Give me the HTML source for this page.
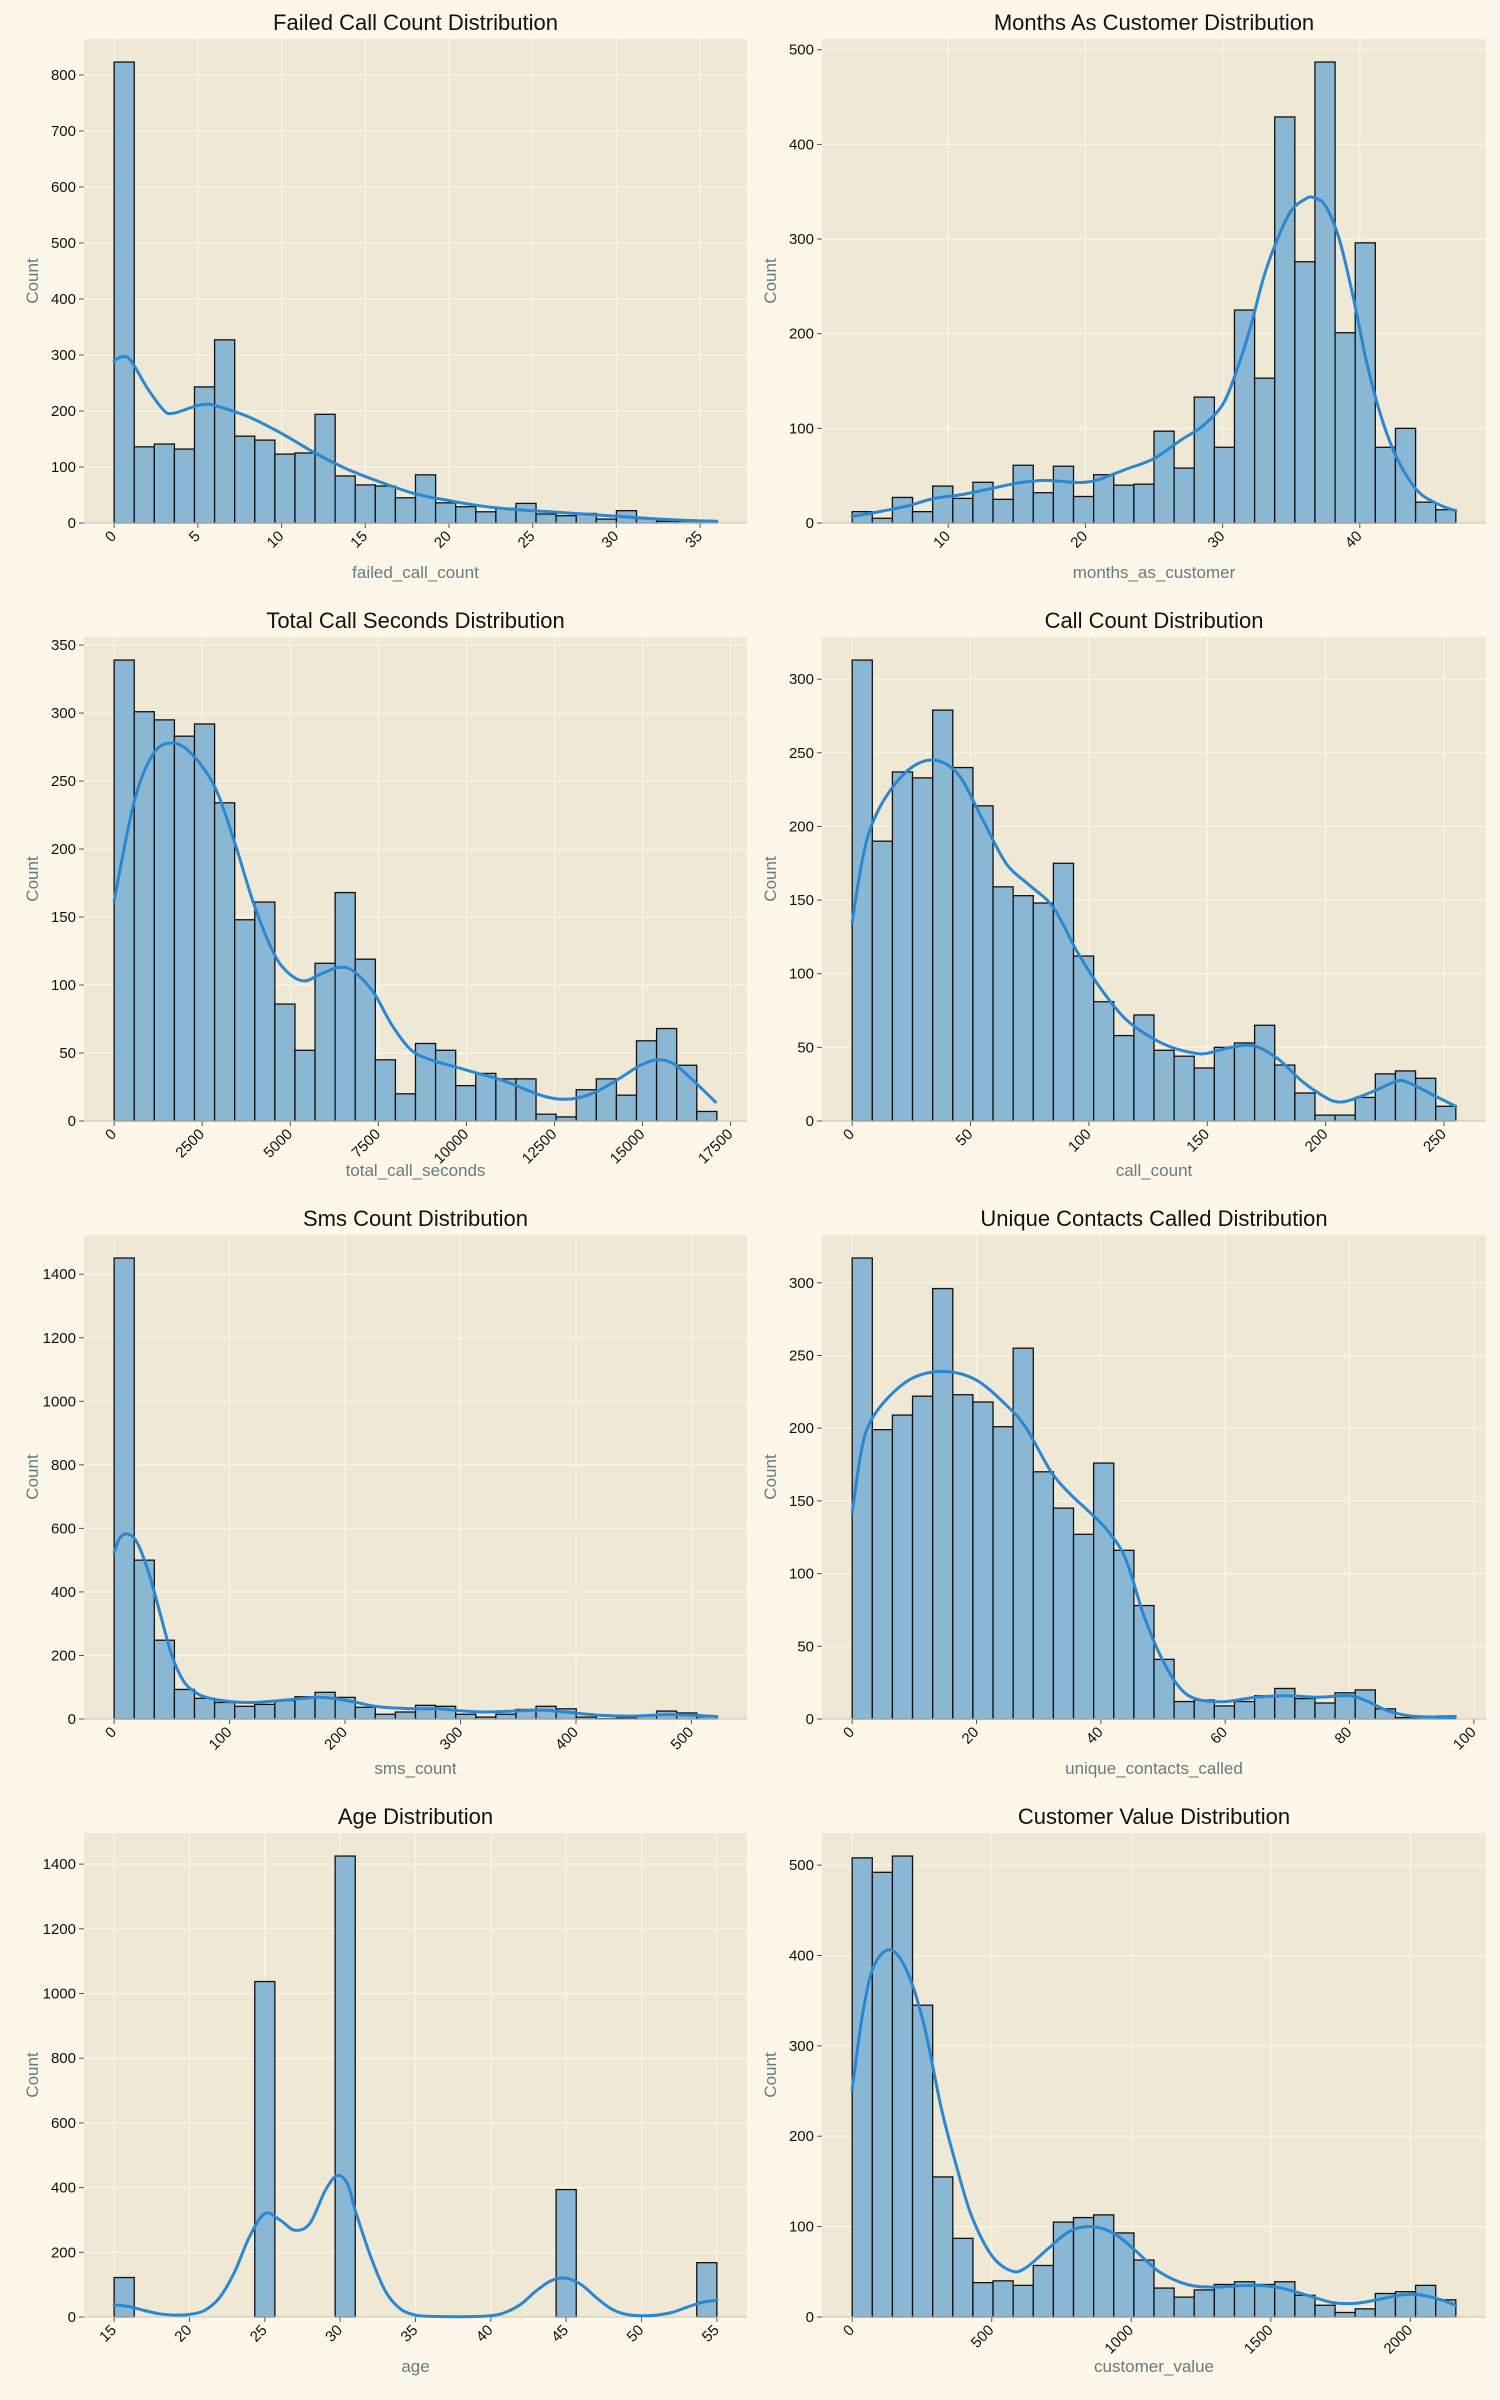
<!DOCTYPE html>
<html><head><meta charset="utf-8"><style>
html,body{margin:0;padding:0;background:#fdf7ea;}
svg{display:block;font-family:"Liberation Sans","DejaVu Sans",sans-serif;}
</style></head><body>
<svg id="fig" width="1500" height="2400" viewBox="0 0 1500 2400" xmlns="http://www.w3.org/2000/svg">
<rect x="0" y="0" width="1500" height="2400" fill="#fdf7ea"/>
</svg>
<script>
// ---------- data ----------
const p1Counts=[823,136,141,132,243,327,155,148,123,125,194,84,68,66,45,86,36,29,20,26,35,16,13,17,7,22,8,3,3,3];
const p1KdeX=[0,0.5,1,2,3,3.5,4,5,5.5,6,8,10,12,14,16,18,20,22,24,26,28,30,32,34,36];
const p1KdeY=[290,297,290,240,200,196,200,210,212,210,190,160,125,95,72,52,40,30,24,20,16,12,8,5,3];
const p2Counts=[12,5,27,12,39,26,43,25,61,32,60,28,51,40,41,97,58,133,80,225,153,429,276,487,201,296,80,100,22,14];
const p2KdeX=[3,5,7,9,11,13,15,17,19,20,21,23,25,27,28.5,30,31,32,33,34,35,36,36.6,37.5,38.5,39.5,40.5,41.5,42.5,43.5,44.5,46,47];
const p2KdeY=[7,12,18,26,30,36,42,45,43,43,46,57,68,88,102,125,160,205,260,300,330,342,344,335,300,240,170,115,75,48,30,18,13];
const p3Counts=[339,301,295,283,292,234,148,161,86,52,116,168,119,45,20,57,52,26,35,31,31,5,3,23,31,19,59,68,41,7];
const p3KdeX=[0,570,1110,1650,2200,2870,3420,3960,4500,4900,5380,5860,6400,6800,7350,7900,8440,8990,9650,10330,11010,11690,12230,12700,13170,13720,14390,14940,15420,15890,16430,17070];
const p3KdeY=[162,235,270,278,270,245,205,160,125,110,103,108,113,110,95,70,52,45,40,35,30,23,18,16,17,22,32,41,45,42,30,14];
const p4Counts=[313,190,237,233,279,240,214,159,153,148,175,112,81,58,72,48,44,36,50,53,65,38,19,4,4,16,32,34,29,10];
const p4KdeX=[0,4,8,15,25,35,45,55,65,75,85,95,105,115,125,135,145,150,160,170,180,190,200,205,210,220,230,235,245,255];
const p4KdeY=[135,175,200,222,240,245,235,205,175,160,145,115,90,70,58,50,46,46,50,51,42,27,16,13,14,20,27,26,18,10];
const p5Counts=[1451,500,248,93,65,52,40,46,58,70,84,68,37,15,22,43,40,15,6,15,30,40,32,6,1,3,10,25,19,7];
const p5KdeX=[0,5,12,20,30,40,50,60,70,80,100,120,150,175,190,210,230,260,280,300,320,340,370,390,420,450,480,500,522];
const p5KdeY=[525,570,582,555,460,330,200,120,85,68,55,52,60,68,65,52,38,32,32,26,22,24,28,22,12,9,14,12,8];
const p6Counts=[317,199,209,222,296,223,218,201,255,170,145,127,176,116,78,41,12,13,9,12,16,21,14,11,18,20,7,1,1,2];
const p6KdeX=[0,1.5,3,6,10,15,20,25,28,32,35,38,41,44,47,50,53,56,60,65,70,75,80,83,86,90,97];
const p6KdeY=[142,185,205,222,235,239,233,215,200,170,155,143,130,110,70,40,20,13,12,15,16,15,16,12,6,2,1];
const p7Counts=[122,0,0,0,0,0,0,1037,0,0,0,1425,0,0,0,0,0,0,0,0,0,0,394,0,0,0,0,0,0,168];
const p7KdeX=[15,16,17,18,19,20,21,22,23,24,25,26,27,28,29,29.8,30.5,31,32,33,34,35,36,38,40,41,42,43,44,45,46,47,48,49,50,51,52,53,54,55];
const p7KdeY=[38,32,20,10,6,8,20,60,140,250,320,300,268,290,390,437,410,330,190,80,25,6,2,1,4,15,40,80,112,120,100,60,25,8,4,6,14,30,45,52];
const p8Counts=[508,492,510,345,155,87,38,40,35,57,105,110,113,93,63,32,22,30,36,39,36,39,24,13,5,9,26,28,35,19];
const p8KdeX=[0,40,80,140,200,260,320,380,430,500,570,620,700,780,860,940,1020,1100,1200,1300,1420,1520,1620,1720,1800,1880,1960,2020,2100,2163];
const p8KdeY=[252,340,390,406,380,320,230,160,110,68,51,54,75,95,100,92,72,50,36,33,35,33,25,16,15,19,24,25,20,13];
const p1Range=[0,36], p1XTicks=[0,5,10,15,20,25,30,35], p1YTicks=[0,100,200,300,400,500,600,700,800];
const p2Range=[3,47], p2XTicks=[10,20,30,40], p2YTicks=[0,100,200,300,400,500];
const p3Range=[0,17110], p3XTicks=[0,2500,5000,7500,10000,12500,15000,17500], p3YTicks=[0,50,100,150,200,250,300,350];
const p4Range=[0,255], p4XTicks=[0,50,100,150,200,250], p4YTicks=[0,50,100,150,200,250,300];
const p5Range=[0,522], p5XTicks=[0,100,200,300,400,500], p5YTicks=[0,200,400,600,800,1000,1200,1400];
const p6Range=[0,97.1], p6XTicks=[0,20,40,60,80,100], p6YTicks=[0,50,100,150,200,250,300];
const p7Range=[15,55], p7XTicks=[15,20,25,30,35,40,45,50,55], p7YTicks=[0,200,400,600,800,1000,1200,1400];
const p8Range=[0,2163], p8XTicks=[0,500,1000,1500,2000], p8YTicks=[0,100,200,300,400,500];

const panels=[
 {title:"Failed Call Count Distribution",xl:"failed_call_count",c:p1Counts,kx:p1KdeX,ky:p1KdeY,r:p1Range,xt:p1XTicks,yt:p1YTicks},
 {title:"Months As Customer Distribution",xl:"months_as_customer",c:p2Counts,kx:p2KdeX,ky:p2KdeY,r:p2Range,xt:p2XTicks,yt:p2YTicks},
 {title:"Total Call Seconds Distribution",xl:"total_call_seconds",c:p3Counts,kx:p3KdeX,ky:p3KdeY,r:p3Range,xt:p3XTicks,yt:p3YTicks},
 {title:"Call Count Distribution",xl:"call_count",c:p4Counts,kx:p4KdeX,ky:p4KdeY,r:p4Range,xt:p4XTicks,yt:p4YTicks},
 {title:"Sms Count Distribution",xl:"sms_count",c:p5Counts,kx:p5KdeX,ky:p5KdeY,r:p5Range,xt:p5XTicks,yt:p5YTicks},
 {title:"Unique Contacts Called Distribution",xl:"unique_contacts_called",c:p6Counts,kx:p6KdeX,ky:p6KdeY,r:p6Range,xt:p6XTicks,yt:p6YTicks},
 {title:"Age Distribution",xl:"age",c:p7Counts,kx:p7KdeX,ky:p7KdeY,r:p7Range,xt:p7XTicks,yt:p7YTicks},
 {title:"Customer Value Distribution",xl:"customer_value",c:p8Counts,kx:p8KdeX,ky:p8KdeY,r:p8Range,xt:p8XTicks,yt:p8YTicks}
];
const NS="http://www.w3.org/2000/svg";
const fig=document.getElementById('fig');
function mk(tag,attrs,parent){const e=document.createElementNS(NS,tag);for(const k in attrs)e.setAttribute(k,attrs[k]);(parent||fig).appendChild(e);return e;}
const colL=[84,747], colR=[822,1486];
const rowTops=[39,637,1235,1833], rowH=484;
function smooth(pts){let d="M"+pts[0][0]+","+pts[0][1];
 for(let i=0;i<pts.length-1;i++){const p0=pts[Math.max(0,i-1)],p1=pts[i],p2=pts[i+1],p3=pts[Math.min(pts.length-1,i+2)];
  const c1x=p1[0]+(p2[0]-p0[0])/6,c1y=p1[1]+(p2[1]-p0[1])/6,c2x=p2[0]-(p3[0]-p1[0])/6,c2y=p2[1]-(p3[1]-p1[1])/6;
  d+=" C"+c1x.toFixed(1)+","+c1y.toFixed(1)+" "+c2x.toFixed(1)+","+c2y.toFixed(1)+" "+p2[0].toFixed(1)+","+p2[1].toFixed(1);}
 return d;}
panels.forEach((p,i)=>{
 const col=i%2===0?colL:colR, top=rowTops[Math.floor(i/2)], bot=top+rowH;
 const L=col[0],R=col[1];
 const g=mk('g',{});
 
 
 const span=p.r[1]-p.r[0], x0=p.r[0]-0.05*span, x1=p.r[1]+0.05*span;
 const ymax=Math.max(...p.c)*1.05;
 const X=v=>L+(v-x0)/(x1-x0)*(R-L);
 const Y=v=>bot-v/ymax*rowH;
 const bg=mk('rect',{x:L,y:top,width:R-L,height:rowH,fill:"#eee8d5"},g);
 
 
 p.yt.forEach(t=>{const y=Y(t);
  mk('line',{x1:L,x2:R,y1:y,y2:y,stroke:"#fbf6ea","stroke-width":1.2},g);
  mk('line',{x1:L-5,x2:L,y1:y,y2:y,stroke:"#555","stroke-width":1},g);
  const tx=mk('text',{x:L-8,y:y+5,"text-anchor":"end","font-size":15,fill:"#111"},g);tx.textContent=t;
  
  });
 p.xt.forEach(t=>{const x=X(t);
  mk('line',{x1:x,x2:x,y1:top,y2:bot,stroke:"#fbf6ea","stroke-width":1.2},g);
  mk('line',{x1:x,x2:x,y1:bot,y2:bot+5,stroke:"#555","stroke-width":1},g);
  const tx=mk('text',{x:x+3,y:bot+14,"text-anchor":"end","font-size":15,fill:"#111",transform:`rotate(-45 ${x+3} ${bot+14})`},g);tx.textContent=t;
  
  });
 const bw=span/p.c.length;
 p.c.forEach((c,j)=>{if(c<=0)return;const xa=X(p.r[0]+j*bw),xb=X(p.r[0]+(j+1)*bw);
  const b=mk('rect',{x:xa,y:Y(c),width:xb-xa,height:bot-Y(c),fill:"#8ab8d4",stroke:"#111","stroke-width":1.3},g);
  
  });
 mk('line',{x1:L,x2:R,y1:bot,y2:bot,stroke:"#c9c3b3","stroke-width":1},g);
 const pts=p.kx.map((v,k)=>[X(v),Y(p.ky[k])]);
 const kd=mk('path',{d:smooth(pts),fill:"none",stroke:"#2a88d3","stroke-width":3,"stroke-linecap":"round"},g);
 
 
 const ti=mk('text',{x:(L+R)/2,y:top-9,"text-anchor":"middle","font-size":22,fill:"#111"},g);ti.textContent=p.title;
 
 
 const xl=mk('text',{x:(L+R)/2,y:bot+55,"text-anchor":"middle","font-size":17,fill:"#657b83"},g);xl.textContent=p.xl;
 
 
 const yx=L-46, yy=(top+bot)/2;
 const yl=mk('text',{x:yx,y:yy,"text-anchor":"middle","font-size":17,fill:"#657b83",transform:`rotate(-90 ${yx} ${yy})`},g);yl.textContent="Count";
 
 
});
</script>
</body></html>
